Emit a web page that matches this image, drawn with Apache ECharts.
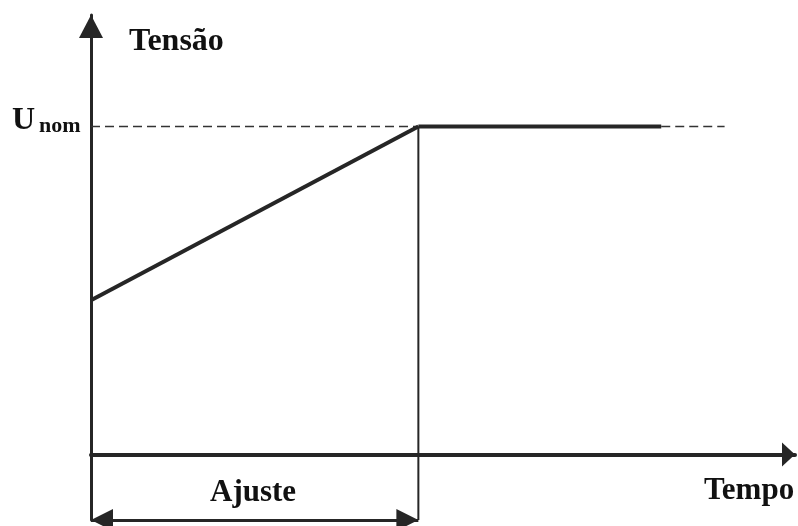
<!DOCTYPE html>
<html>
<head>
<meta charset="utf-8">
<script src="https://cdn.jsdelivr.net/npm/echarts@6/dist/echarts.min.js"></script>
<style>
  html, body { margin: 0; padding: 0; background: #fff; }
  #chart { width: 798px; height: 526px; }
</style>
</head>
<body>
<div id="chart"></div>
<script>
// tempo (0..100) e tensão relativa (U/Unom)
const uNom = 1;
const tAjuste = 46.5;      // fim do ajuste
const tSolidEnd = 81;      // fim do trecho contínuo em Unom
const tDashEnd = 90;       // fim do tracejado à direita
const uStart = 0.47;       // tensão no início da rampa
const yMin = -0.2;         // cota da seta "Ajuste"

const ramp = [[0, uStart], [tAjuste, uNom]];
const flat = [[tAjuste, uNom], [tSolidEnd, uNom]];
const dashLeft = [[0, uNom], [tAjuste, uNom]];
const dashRight = [[tSolidEnd, uNom], [tDashEnd, uNom]];
const vertical = [[tAjuste, uNom], [tAjuste, yMin]];

const ink = '#262626';
const serif = '"Liberation Serif", "DejaVu Serif", serif';

const chart = echarts.init(document.getElementById('chart'));

const dashed = data => ({
  type: 'line', data, symbol: 'none', silent: true,
  lineStyle: { color: '#333', width: 1.6, type: [9, 5] }
});

chart.setOption({
  animation: false,
  grid: { left: 91, right: 3, top: 15, bottom: 6 },
  xAxis: {
    type: 'value', min: 0, max: 100,
    axisLine: { show: true, onZero: true, symbol: ['none', 'triangle'], symbolSize: [24, 13],
      symbolOffset: [0, -6.5],
      lineStyle: { color: ink, width: 4 } },
    axisTick: { show: false }, axisLabel: { show: false }, splitLine: { show: false }
  },
  yAxis: {
    type: 'value', min: yMin, max: 1.34,
    axisLine: { show: true, onZero: false, symbol: ['none', 'triangle'], symbolSize: [24, 23],
      symbolOffset: [0, -11.5],
      lineStyle: { color: ink, width: 3 } },
    axisTick: { show: false }, axisLabel: { show: false }, splitLine: { show: false }
  },
  series: [
    dashed(dashLeft),
    dashed(dashRight),
    {
      type: 'line', data: ramp, symbol: 'none', silent: true,
      lineStyle: { color: ink, width: 4 }
    },
    {
      type: 'line', data: flat, symbol: 'none', silent: true,
      lineStyle: { color: ink, width: 4 }
    },
    {
      type: 'line', data: vertical, symbol: 'none', silent: true,
      lineStyle: { color: ink, width: 2 },
      markLine: {
        silent: true,
        symbol: ['triangle', 'triangle'],
        symbolSize: [22, 22],
        symbolOffset: [[0, 11], [0, 11]],
        label: { show: false },
        lineStyle: { color: ink, width: 3, type: 'solid' },
        data: [[{ coord: [0, yMin] }, { coord: [tAjuste, yMin] }]]
      }
    }
  ],
  graphic: [
    { type: 'text', left: 129, top: 26,
      style: { text: 'Tensão', font: 'bold 32px ' + serif, fill: '#111' } },
    { type: 'text', left: 12, top: 105,
      style: { text: '{u|U}{n|nom}', font: 'bold 30px ' + serif, fill: '#111',
        rich: { u: { font: 'bold 32px ' + serif, fill: '#111', verticalAlign: 'bottom' },
                n: { font: 'bold 22px ' + serif, fill: '#111', verticalAlign: 'bottom', padding: [0, 0, 0, 4] } } } },
    { type: 'text', left: 210, top: 477,
      style: { text: 'Ajuste', font: 'bold 31px ' + serif, fill: '#111' } },
    { type: 'text', left: 704, top: 475,
      style: { text: 'Tempo', font: 'bold 31px ' + serif, fill: '#111' } }
  ]
});
</script>
</body>
</html>
